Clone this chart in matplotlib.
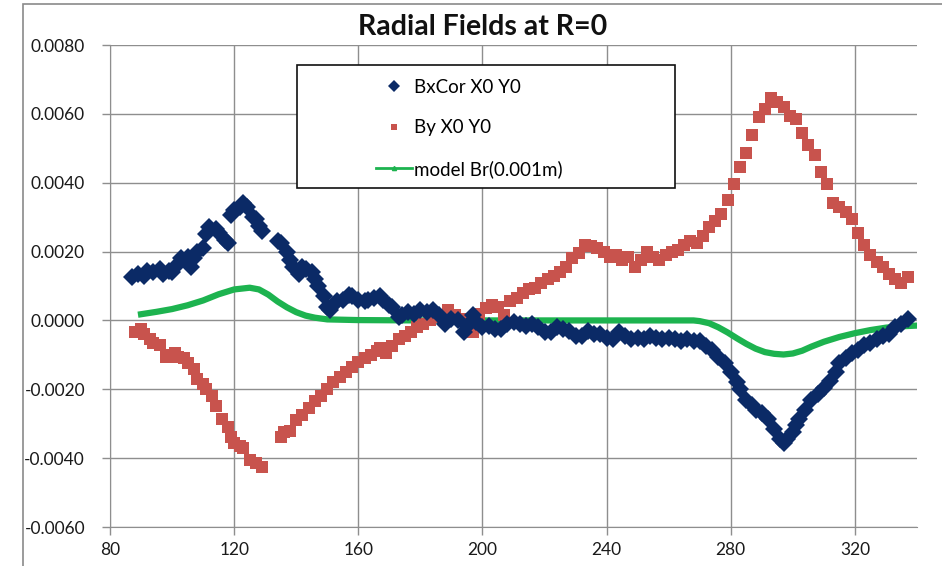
import matplotlib as mpl
mpl.use('Agg')
import matplotlib.pyplot as plt
from matplotlib.lines import Line2D
from matplotlib.patches import Rectangle
import numpy as np

plt.rcParams['font.family'] = ['Lato', 'DejaVu Sans']

# BxCor X0 Y0 (position, field in units of 1e-3)
bx_x = [87, 89, 91, 92, 94, 96, 97, 99, 100, 102, 103, 105, 106, 107, 108, 110,
        111, 112, 114, 115, 117, 118, 119, 120, 122, 123, 124, 126, 127, 128, 129,
        134, 135, 137, 138, 139, 141, 142, 143, 145, 146, 147, 149, 150, 151, 152,
        153, 155, 157, 158, 160, 162, 163, 165, 167, 168, 170, 171, 173, 174, 176,
        178, 180, 182, 184, 186, 188, 190, 192, 194, 195, 197, 198, 200, 202, 204,
        206, 208, 210, 212, 214, 216, 218, 220, 222, 224, 226, 228, 230, 232, 234,
        236, 238, 240, 242, 244, 246, 248, 250, 252, 254, 256, 258, 260, 262, 264,
        266, 268, 270, 272, 274, 276, 278, 280, 282, 283, 285, 287, 288, 290, 292,
        294, 296, 297, 298, 300, 301, 302, 304, 306, 308, 310, 312, 314, 315, 317,
        319, 321, 323, 325, 327, 329, 331, 333, 335, 337]
bx_y = [1.25, 1.35, 1.30, 1.45, 1.40, 1.50, 1.35, 1.45, 1.40, 1.65, 1.80, 1.85, 1.55,
        1.80, 2.00, 2.10, 2.50, 2.70, 2.65, 2.55, 2.35, 2.25, 3.05, 3.20, 3.30, 3.40,
        3.30, 3.00, 2.95, 2.75, 2.60, 2.30, 2.25, 2.00, 1.75, 1.55, 1.35, 1.55, 1.50,
        1.40, 1.20, 1.00, 0.70, 0.40, 0.30, 0.45, 0.55, 0.60, 0.75, 0.70, 0.60, 0.55,
        0.60, 0.65, 0.70, 0.60, 0.45, 0.40, 0.10, 0.15, 0.25, 0.20, 0.30, 0.25, 0.30,
        0.15, -0.10, 0.05, 0.00, -0.35, -0.15, 0.15, -0.05, -0.20, -0.15, -0.25, -0.25,
        -0.10, -0.05, -0.10, -0.15, -0.10, -0.20, -0.35, -0.35, -0.20, -0.25, -0.30,
        -0.45, -0.45, -0.30, -0.40, -0.40, -0.50, -0.55, -0.35, -0.45, -0.55, -0.50,
        -0.55, -0.45, -0.50, -0.55, -0.50, -0.55, -0.60, -0.55, -0.60, -0.60, -0.75,
        -0.85, -1.05, -1.25, -1.50, -1.80, -2.00, -2.30, -2.45, -2.60, -2.70, -2.85,
        -3.15, -3.45, -3.55, -3.45, -3.25, -3.05, -2.85, -2.60, -2.30, -2.15, -1.95,
        -1.75, -1.50, -1.25, -1.10, -0.95, -0.85, -0.70, -0.65, -0.55, -0.45, -0.40,
        -0.20, -0.10, 0.05]

# By X0 Y0
by_x = [88, 90, 91, 93, 94, 96, 98, 99, 101, 102, 104, 105, 107, 108, 110, 111, 113,
        114, 116, 118, 119, 120, 122, 123, 125, 127, 129, 135, 136, 138, 140, 142,
        144, 146, 148, 150, 152, 154, 156, 158, 160, 162, 164, 166, 167, 169, 171,
        173, 175, 177, 179, 181, 183, 185, 187, 189, 191, 193, 195, 197, 199, 201,
        203, 205, 207, 209, 211, 213, 215, 217, 219, 221, 223, 225, 227, 229, 231,
        233, 235, 237, 239, 241, 243, 245, 247, 249, 251, 253, 255, 257, 259, 261,
        263, 265, 267, 269, 271, 273, 275, 277, 279, 281, 283, 285, 287, 289, 291,
        293, 295, 297, 299, 301, 303, 305, 307, 309, 311, 313, 315, 317, 319, 321,
        323, 325, 327, 329, 331, 333, 335, 337]
by_y = [-0.35, -0.25, -0.40, -0.55, -0.65, -0.70, -1.05, -1.00, -0.95, -1.05, -1.10,
        -1.25, -1.40, -1.70, -1.85, -2.00, -2.20, -2.50, -2.85, -3.10, -3.40, -3.55,
        -3.65, -3.70, -4.05, -4.15, -4.25, -3.40, -3.25, -3.20, -2.90, -2.75, -2.55,
        -2.35, -2.20, -2.00, -1.80, -1.65, -1.50, -1.35, -1.20, -1.10, -1.00, -0.90,
        -0.80, -0.95, -0.75, -0.55, -0.45, -0.35, -0.20, -0.10, 0.00, 0.10, 0.15, 0.30,
        0.15, 0.05, -0.25, -0.35, 0.20, 0.35, 0.45, 0.40, 0.15, 0.55, 0.65, 0.80, 0.90,
        0.95, 1.10, 1.20, 1.30, 1.40, 1.55, 1.80, 1.95, 2.20, 2.15, 2.10, 2.00, 1.85,
        1.90, 1.75, 1.85, 1.55, 1.75, 2.00, 1.85, 1.75, 1.90, 2.00, 2.05, 2.20, 2.30,
        2.25, 2.45, 2.70, 2.90, 3.10, 3.50, 3.95, 4.45, 4.85, 5.40, 5.90, 6.15, 6.45,
        6.35, 6.20, 5.95, 5.85, 5.45, 5.10, 4.80, 4.30, 3.95, 3.40, 3.30, 3.15, 2.95,
        2.55, 2.20, 1.90, 1.70, 1.55, 1.35, 1.20, 1.10, 1.25]

# model Br(0.001m)
br_x = [90, 95, 100, 105, 110, 115, 120, 125, 128, 131, 134, 137, 140, 143, 146, 150,
        160, 180, 200, 220, 240, 260, 268, 270, 273, 276, 279, 282, 285, 288, 291,
        294, 297, 300, 303, 306, 310, 315, 320, 325, 330, 335, 340]
br_y = [0.18, 0.25, 0.33, 0.44, 0.58, 0.76, 0.90, 0.95, 0.90, 0.75, 0.55, 0.38, 0.24,
        0.14, 0.08, 0.03, 0.01, 0.00, 0.00, 0.00, 0.00, 0.00, 0.00, -0.02, -0.08,
        -0.20, -0.35, -0.52, -0.68, -0.82, -0.92, -0.97, -0.99, -0.96, -0.88, -0.76,
        -0.62, -0.48, -0.37, -0.28, -0.21, -0.17, -0.15]

x_ticks = [80, 120, 160, 200, 240, 280, 320]
y_ticks = [-0.006, -0.004, -0.002, 0.0, 0.002, 0.004, 0.006, 0.008]

navy = '#0b2a66'
red = '#c8534d'
green = '#1db34f'
grid_c = '#8e8e8e'

fig = plt.figure(figsize=(9.42, 5.66), dpi=100)
# outer chart border (left and top edges only show)
fig.patches.append(Rectangle((23 / 942, -0.1), 1.0, 1.1 - 4 / 566,
                             transform=fig.transFigure, fill=False,
                             edgecolor='#8a8a8a', linewidth=1.2))

ax = fig.add_axes([110 / 942, 1 - 527 / 566, 807 / 942, 482 / 566])

ax.plot(br_x, np.array(br_y) * 1e-3, color=green, linewidth=4.5, zorder=2)
ax.plot(by_x, np.array(by_y) * 1e-3, linestyle='none', marker='s', markersize=9,
        color=red, markeredgewidth=0, zorder=3)
ax.plot(bx_x, np.array(bx_y) * 1e-3, linestyle='none', marker='D', markersize=9.5,
        color=navy, markeredgewidth=0, zorder=4)

ax.set_xlim(80, 340)
ax.set_ylim(-0.006, 0.008)
ax.set_xticks(x_ticks)
ax.set_yticks(y_ticks)
ax.set_yticklabels(['%.4f' % v for v in y_ticks])
ax.grid(True, color=grid_c, linewidth=1)
ax.set_axisbelow(True)
for side in ['top', 'right']:
    ax.spines[side].set_visible(False)
for side in ['left', 'bottom']:
    ax.spines[side].set_color(grid_c)
ax.tick_params(axis='both', colors=grid_c, length=6, width=1, labelsize=12.5,
               labelcolor='#1a1a1a')
ax.tick_params(axis='x', pad=5)
ax.tick_params(axis='y', pad=12)

fig.text(483 / 942, 1 - 27 / 566, 'Radial Fields at R=0', ha='center', va='center',
         fontsize=20.5, fontweight='bold', color='#111111')

# legend box drawn separately, entries placed inside it
box = Rectangle((297 / 942, 1 - 188 / 566), 378 / 942, 123 / 566,
                transform=fig.transFigure, facecolor='white', edgecolor='#111111',
                linewidth=1.2, zorder=9)
fig.patches.append(box)

handles = [
    Line2D([], [], linestyle='none', marker='D', markersize=6, color=navy,
           markeredgewidth=0),
    Line2D([], [], linestyle='none', marker='s', markersize=5, color=red,
           markeredgewidth=0),
    Line2D([], [], color=green, linewidth=2, marker='^', markersize=3),
]
labels = ['BxCor X0 Y0', 'By X0 Y0', 'model Br(0.001m)']
leg = fig.legend(handles, labels, loc='upper left',
                 bbox_to_anchor=(376 / 942, 1 - 79 / 566),
                 bbox_transform=fig.transFigure, fontsize=13.5,
                 frameon=False, borderaxespad=0, borderpad=0,
                 labelspacing=1.25, handlelength=1.9, handletextpad=0.15)
leg.set_zorder(10)

fig.savefig('out.png', dpi=100)
